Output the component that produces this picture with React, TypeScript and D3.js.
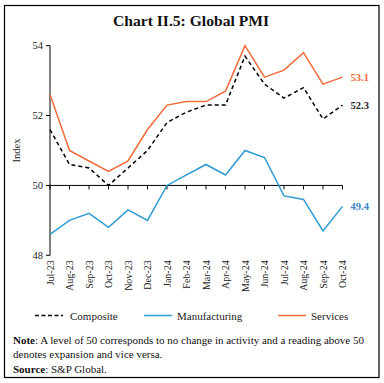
import React from "react";
import * as d3 from "d3";

const months = ["Jul-23","Aug-23","Sep-23","Oct-23","Nov-23","Dec-23","Jan-24","Feb-24","Mar-24","Apr-24","May-24","Jun-24","Jul-24","Aug-24","Sep-24","Oct-24"];
const composite = [51.6,50.6,50.5,50.0,50.5,51.0,51.8,52.1,52.3,52.3,53.7,52.9,52.5,52.8,51.9,52.3];
const manufacturing = [48.6,49.0,49.2,48.8,49.3,49.0,50.0,50.3,50.6,50.3,51.0,50.8,49.7,49.6,48.7,49.4];
const services = [52.6,51.0,50.7,50.4,50.7,51.6,52.3,52.4,52.4,52.7,54.0,53.1,53.3,53.8,52.9,53.1];
const yTicks = [48,50,52,54];

const W = 384, H = 383;
const FONT = "'Liberation Serif', 'DejaVu Serif', serif";
const ORANGE = "#F26B3A";
const BLUE = "#2E9BD3";

export default function App() {
  const x = d3.scalePoint<string>().domain(months).range([50, 342.5]);
  const y = d3.scaleLinear().domain([48, 54]).range([255.3, 45.7]);
  const line = d3.line<number>().x((_, i) => x(months[i])!).y(d => y(d));
  const last = months.length - 1;
  return (
    <svg width={W} height={H} style={{ position: "absolute", left: 0, top: 0 }} fontFamily={FONT}>
      <rect x={0} y={0} width={W} height={H} fill="#fff" />
      <rect x={4.5} y={5.5} width={374.5} height={372} fill="none" stroke="#000" strokeWidth={1.2} />
      <text x={191} y={26} textAnchor="middle" fontSize={15.6} fontWeight="bold" fill="#111">Chart II.5: Global PMI</text>

      {/* y axis */}
      <line x1={50} x2={50} y1={y(54)} y2={y(48)} stroke="#000" strokeWidth={1} />
      {yTicks.map(t => (
        <g key={t}>
          <line x1={46} x2={50} y1={y(t)} y2={y(t)} stroke="#000" />
          <text x={43} y={y(t) + 3.5} textAnchor="end" fontSize={10.5} fill="#222">{t}</text>
        </g>
      ))}
      <text transform={`translate(20,${y(51)}) rotate(-90)`} textAnchor="middle" fontSize={10.5} fill="#222">Index</text>

      {/* x axis at 50 */}
      <line x1={50} x2={x(months[last])!} y1={y(50)} y2={y(50)} stroke="#000" />
      {months.map(m => (
        <line key={m} x1={x(m)!} x2={x(m)!} y1={y(50)} y2={y(50) + 4} stroke="#000" />
      ))}
      {months.map(m => (
        <text key={m} transform={`translate(${x(m)! + 3.5},${y(48) + 5}) rotate(-90)`} textAnchor="end" fontSize={10} fill="#222">{m}</text>
      ))}

      <path d={line(services)!} fill="none" stroke={ORANGE} strokeWidth={1.5} />
      <path d={line(manufacturing)!} fill="none" stroke={BLUE} strokeWidth={1.5} />
      <path d={line(composite)!} fill="none" stroke="#000" strokeWidth={1.5} strokeDasharray="4,3" />

      <text x={x(months[last])! + 8} y={y(services[last]) + 3.5} fontSize={10.5} fontWeight="bold" fill={ORANGE}>{services[last].toFixed(1)}</text>
      <text x={x(months[last])! + 8} y={y(composite[last]) + 3.5} fontSize={10.5} fontWeight="bold" fill="#222">{composite[last].toFixed(1)}</text>
      <text x={x(months[last])! + 8} y={y(manufacturing[last]) + 3.5} fontSize={10.5} fontWeight="bold" fill="#3A86C8">{manufacturing[last].toFixed(1)}</text>

      {/* legend */}
      <line x1={35} x2={63} y1={315.5} y2={315.5} stroke="#000" strokeWidth={1.5} strokeDasharray="4,2.5" />
      <text x={70} y={319.5} fontSize={11} fill="#222">Composite</text>
      <line x1={144} x2={172} y1={315.5} y2={315.5} stroke={BLUE} strokeWidth={1.5} />
      <text x={177} y={319.5} fontSize={11} fill="#222">Manufacturing</text>
      <line x1={278} x2={306} y1={315.5} y2={315.5} stroke={ORANGE} strokeWidth={1.5} />
      <text x={311} y={319.5} fontSize={11} fill="#222">Services</text>

      <text x={13} y={343.5} fontSize={11} fill="#111"><tspan fontWeight="bold">Note</tspan>: A level of 50 corresponds to no change in activity and a reading above 50</text>
      <text x={13} y={358} fontSize={11} fill="#111">denotes expansion and vice versa.</text>
      <text x={13} y={372.5} fontSize={11} fill="#111"><tspan fontWeight="bold">Source</tspan>: S&amp;P Global.</text>
    </svg>
  );
}
